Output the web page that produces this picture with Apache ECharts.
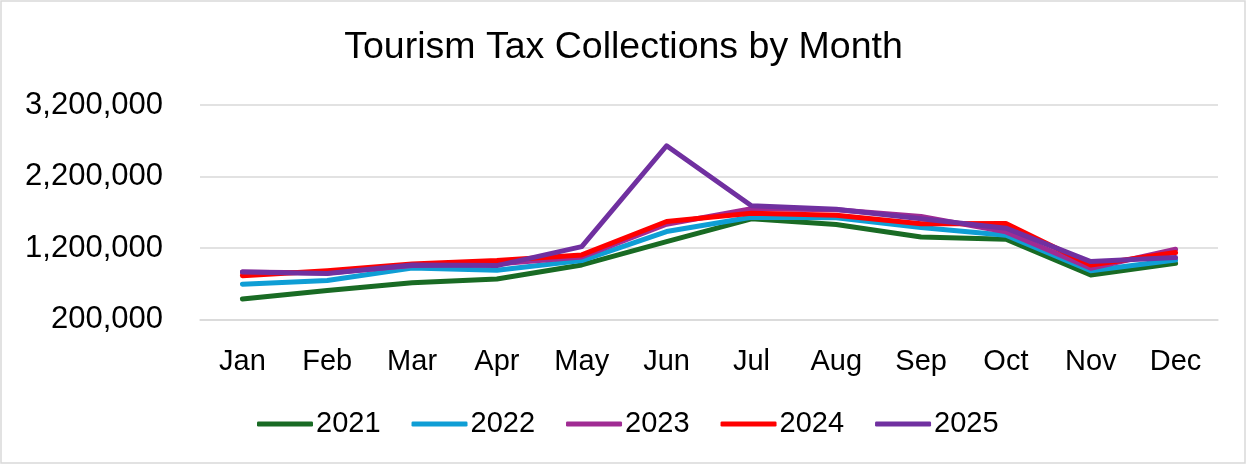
<!DOCTYPE html>
<html>
<head>
<meta charset="utf-8">
<title>Tourism Tax Collections by Month</title>
<script src="https://cdn.jsdelivr.net/npm/echarts@6/dist/echarts.min.js"></script>
<style>
  html, body { margin: 0; padding: 0; background: #ffffff; }
  #chart { width: 1247px; height: 465px; }
</style>
</head>
<body>
<div id="chart"></div>
<script>
// Monthly tourism tax collections, one series per year
const months = ['Jan', 'Feb', 'Mar', 'Apr', 'May', 'Jun', 'Jul', 'Aug', 'Sep', 'Oct', 'Nov', 'Dec'];
const years = ['2021', '2022', '2023', '2024', '2025'];

const collections2021 = [487000, 606000, 715000, 767000, 963000, 1290000, 1608000, 1528000, 1355000, 1323000, 823000, 987000];
const collections2022 = [693000, 746000, 921000, 889000, 1024000, 1430000, 1629000, 1622000, 1486000, 1379000, 883000, 1033000];
const collections2023 = [865000, 851000, 956000, 977000, 1075000, 1533000, 1748000, 1734000, 1640000, 1426000, 917000, 1183000];
const collections2024 = [813000, 883000, 977000, 1026000, 1103000, 1570000, 1685000, 1659000, 1538000, 1542000, 963000, 1136000];
const collections2025 = [865000, 844000, 963000, 954000, 1220000, 2630000, 1790000, 1741000, 1608000, 1477000, 1010000, 1066000];

const yTicks = [200000, 1200000, 2200000, 3200000];
const yearColors = ['#196B24', '#0F9ED5', '#A02B93', '#FF0000', '#7030A0'];

const seriesValues = [collections2021, collections2022, collections2023, collections2024, collections2025];

const chart = echarts.init(document.getElementById('chart'), null, { renderer: 'canvas' });

const option = {
  animation: false,
  backgroundColor: '#ffffff',
  color: yearColors,
  textStyle: { fontFamily: 'Liberation Sans, Arial, sans-serif' },
  title: {
    text: 'Tourism Tax Collections by Month',
    left: 'center',
    top: 24,
    textStyle: {
      fontSize: 37.5,
      fontWeight: 'normal',
      color: '#000000',
      lineHeight: 38,
      fontFamily: 'Liberation Sans, Arial, sans-serif'
    }
  },
  graphic: [{
    type: 'rect',
    silent: true,
    shape: { x: 1, y: 1, width: 1244, height: 462 },
    style: { fill: 'none', stroke: '#d9d9d9', lineWidth: 1.5 }
  }],
  legend: {
    data: years,
    left: 252,
    top: 404,
    icon: 'roundRect',
    itemWidth: 56,
    itemHeight: 5,
    itemGap: 31,
    textStyle: {
      fontSize: 29,
      color: '#000000',
      lineHeight: 30,
      padding: [0, 0, 0, -2]
    }
  },
  grid: {
    left: 200,
    right: 29,
    top: 105,
    bottom: 145.5,
    containLabel: false
  },
  xAxis: {
    type: 'category',
    data: months,
    boundaryGap: true,
    axisLine: { show: true, lineStyle: { color: '#d9d9d9', width: 1.5 } },
    axisTick: { show: false },
    axisLabel: {
      fontSize: 29,
      color: '#000000',
      margin: 28,
      lineHeight: 29
    }
  },
  yAxis: {
    type: 'value',
    min: 200000,
    max: 3200000,
    axisLine: { show: false },
    axisTick: { show: false, customValues: yTicks },
    splitLine: { show: true, lineStyle: { color: '#d9d9d9', width: 1.5 } },
    axisLabel: {
      customValues: yTicks,
      fontSize: 31,
      color: '#000000',
      margin: 37,
      formatter: function (v) { return Number(v).toLocaleString('en-US'); }
    }
  },
  series: years.map(function (year, i) {
    return {
      name: year,
      type: 'line',
      data: seriesValues[i],
      symbol: 'none',
      smooth: false,
      lineStyle: { width: 5, color: yearColors[i], cap: 'round', join: 'round' },
      itemStyle: { color: yearColors[i] },
      z: 2 + i
    };
  })
};

chart.setOption(option);
</script>
</body>
</html>
